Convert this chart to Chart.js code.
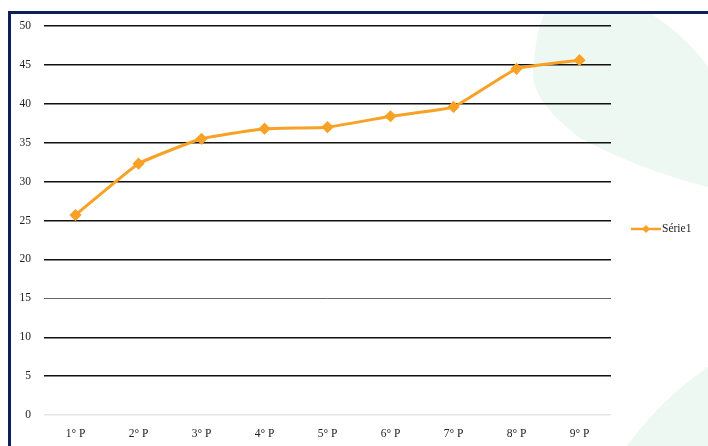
<!DOCTYPE html>
<html>
<head>
<meta charset="utf-8">
<script src="https://cdn.jsdelivr.net/npm/chart.js@4/dist/chart.umd.min.js"></script>
<style>
html,body{margin:0;padding:0;background:#fff;}
#wrap{width:708px;height:446px;position:relative;}
</style>
</head>
<body>
<div id="wrap"><canvas id="c" width="708" height="446"></canvas></div>
<script>
const categories = ["1° P","2° P","3° P","4° P","5° P","6° P","7° P","8° P","9° P"];
const serie1 = [25.7, 32.3, 35.5, 36.8, 37.0, 38.4, 39.6, 44.5, 45.6];
const seriesName = "Série1";
const yTicks = [0,5,10,15,20,25,30,35,40,45,50];

const ORANGE = '#f7a226';
const FONT = '"Liberation Serif", "Times New Roman", serif';
const TEXT = '#222';

const decor = {
  id: 'decor',
  beforeDraw(chart) {
    const ctx = chart.ctx;
    ctx.save();
    ctx.fillStyle = '#ffffff';
    ctx.fillRect(0,0,708,446);
    // faint green background shapes
    ctx.fillStyle = '#edf8f2';
    ctx.beginPath();
    ctx.moveTo(545, 12);
    ctx.lineTo(648, 12);
    ctx.quadraticCurveTo(685, 35, 708, 67);
    ctx.lineTo(708, 187);
    ctx.quadraticCurveTo(640, 170, 580, 138);
    ctx.quadraticCurveTo(530, 100, 533, 70);
    ctx.quadraticCurveTo(536, 30, 545, 12);
    ctx.closePath();
    ctx.fill();
    ctx.beginPath();
    ctx.moveTo(627, 446);
    ctx.quadraticCurveTo(660, 400, 708, 367);
    ctx.lineTo(708, 446);
    ctx.closePath();
    ctx.fill();
    // navy border
    ctx.fillStyle = '#0e1f5b';
    ctx.fillRect(8, 11, 3, 446);
    ctx.fillRect(8, 11, 700, 3);
    ctx.restore();
  },
  afterDraw(chart) {
    const ctx = chart.ctx;
    ctx.save();
    // legend
    const y = 229;
    ctx.strokeStyle = ORANGE;
    ctx.lineWidth = 2.5;
    ctx.beginPath();
    ctx.moveTo(631, y);
    ctx.lineTo(661, y);
    ctx.stroke();
    ctx.fillStyle = ORANGE;
    ctx.beginPath();
    ctx.moveTo(646, y-4); ctx.lineTo(650, y); ctx.lineTo(646, y+4); ctx.lineTo(642, y);
    ctx.closePath(); ctx.fill();
    ctx.fillStyle = TEXT;
    ctx.font = '11.5px ' + FONT;
    ctx.textBaseline = 'middle';
    ctx.fillText(seriesName, 662, y);
    ctx.restore();
  }
};

new Chart(document.getElementById('c'), {
  type: 'line',
  data: {
    labels: categories,
    datasets: [{
      label: seriesName,
      data: serie1,
      borderColor: ORANGE,
      backgroundColor: ORANGE,
      borderWidth: 3,
      tension: 0.12,
      pointStyle: 'rectRot',
      pointRadius: 4,
      pointBackgroundColor: ORANGE,
      pointBorderColor: ORANGE
    }]
  },
  options: {
    responsive: false,
    animation: false,
    layout: { padding: { left: 12, right: 97, top: 26, bottom: 0 } },
    plugins: { legend: { display: false }, tooltip: { enabled: false } },
    scales: {
      x: {
        offset: true,
        grid: { display: false, drawTicks: false },
        border: { display: false },
        ticks: { color: TEXT, font: { family: FONT, size: 11.5 }, padding: 12 },
        afterFit(s) { s.height = 31; }
      },
      y: {
        min: 0, max: 50,
        afterBuildTicks(s) { s.ticks = yTicks.map(v => ({ value: v })); },
        grid: {
          drawTicks: false,
          color: ctx => ctx.tick && ctx.tick.value === 0 ? '#e6e6e6' : (ctx.tick && ctx.tick.value === 15 ? '#666' : '#111'),
          lineWidth: ctx => ctx.tick && ctx.tick.value === 15 ? 1 : 1.4
        },
        border: { display: false },
        ticks: { color: TEXT, font: { family: FONT, size: 11.5 }, padding: 13 },
        afterFit(s) { s.width = 32; }
      }
    }
  },
  plugins: [decor]
});
</script>
</body>
</html>
